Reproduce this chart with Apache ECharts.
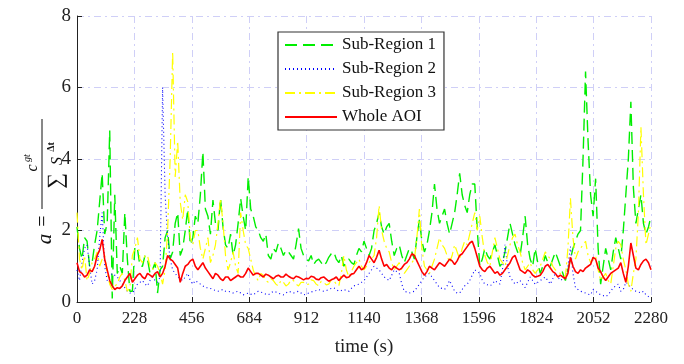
<!DOCTYPE html>
<html>
<head>
<meta charset="utf-8">
<script src="https://cdn.jsdelivr.net/npm/echarts@6.0.0/dist/echarts.min.js"></script>
<style>
  html, body { margin: 0; padding: 0; background: #fff; }
  #chart-container { width: 684px; height: 364px; }
</style>
</head>
<body>
<div id="chart-container"></div>
<script>
// sample times (s), one reading every 10 s
const times = [
  0, 10, 20, 30, 40, 50, 60, 70, 80, 90,
  100, 110, 120, 130, 140, 150, 160, 170, 180, 190,
  200, 210, 220, 230, 240, 250, 260, 270, 280, 290,
  300, 310, 320, 330, 340, 350, 360, 370, 380, 390,
  400, 410, 420, 430, 440, 450, 460, 470, 480, 490,
  500, 510, 520, 530, 540, 550, 560, 570, 580, 590,
  600, 610, 620, 630, 640, 650, 660, 670, 680, 690,
  700, 710, 720, 730, 740, 750, 760, 770, 780, 790,
  800, 810, 820, 830, 840, 850, 860, 870, 880, 890,
  900, 910, 920, 930, 940, 950, 960, 970, 980, 990,
  1000, 1010, 1020, 1030, 1040, 1050, 1060, 1070, 1080, 1090,
  1100, 1110, 1120, 1130, 1140, 1150, 1160, 1170, 1180, 1190,
  1200, 1210, 1220, 1230, 1240, 1250, 1260, 1270, 1280, 1290,
  1300, 1310, 1320, 1330, 1340, 1350, 1360, 1370, 1380, 1390,
  1400, 1410, 1420, 1430, 1440, 1450, 1460, 1470, 1480, 1490,
  1500, 1510, 1520, 1530, 1540, 1550, 1560, 1570, 1580, 1590,
  1600, 1610, 1620, 1630, 1640, 1650, 1660, 1670, 1680, 1690,
  1700, 1710, 1720, 1730, 1740, 1750, 1760, 1770, 1780, 1790,
  1800, 1810, 1820, 1830, 1840, 1850, 1860, 1870, 1880, 1890,
  1900, 1910, 1920, 1930, 1940, 1950, 1960, 1970, 1980, 1990,
  2000, 2010, 2020, 2030, 2040, 2050, 2060, 2070, 2080, 2090,
  2100, 2110, 2120, 2130, 2140, 2150, 2160, 2170, 2180, 2190,
  2200, 2210, 2220, 2230, 2240, 2250, 2260, 2270, 2280
];

const subRegion1 = [
  2.1, 1.5, 1.2, 1.8, 1.7, 1.0, 1.1, 1.6, 2.0, 2.8,
  3.6, 1.9, 2.2, 4.8, 0.1, 3.0, 0.8, 1.0, 0.8, 2.5,
  1.2, 0.3, 0.3, 1.55, 1.5, 1.0, 1.0, 1.3, 1.2, 0.8,
  0.9, 1.1, 0.25, 0.9, 1.0, 1.8, 2.0, 1.2, 1.4, 2.2,
  2.5, 1.3, 1.5, 2.0, 2.6, 1.6, 1.8, 2.4, 2.2, 3.0,
  4.2, 2.6, 2.4, 1.9, 2.85, 2.2, 2.0, 2.9, 2.1, 1.6,
  1.5, 1.9, 1.3, 1.6, 2.2, 2.9, 2.4, 2.0, 3.5, 2.6,
  2.4, 2.1, 2.0, 1.8, 1.7, 1.9, 1.3, 1.2, 1.5, 1.4,
  1.65, 1.5, 1.3, 1.45, 1.4, 1.3, 1.2, 1.6, 2.05, 1.5,
  1.3, 1.2, 1.15, 1.3, 1.05, 1.15, 1.2, 1.1, 1.0, 1.1,
  1.25, 1.35, 1.4, 1.2, 1.1, 1.3, 1.0, 1.15, 1.2, 1.1,
  1.05, 1.3, 1.5, 1.4, 1.7, 1.5, 1.3, 1.5, 2.0, 2.2,
  2.5, 2.1, 1.9, 2.1, 2.2, 1.7, 1.3, 1.5, 1.6, 1.3,
  1.1, 1.3, 1.5, 1.4, 1.2, 1.8, 2.3, 1.7, 1.4, 1.6,
  2.0, 2.5, 3.3, 2.6, 2.2, 2.4, 2.6, 2.2, 1.9, 2.2,
  2.5, 3.0, 3.6, 3.0, 2.7, 2.5, 3.0, 3.3, 3.3, 2.0,
  1.0, 1.2, 1.5, 1.3, 1.2, 1.4, 1.6, 1.3, 1.0, 1.1,
  1.4, 1.8, 2.2, 1.9, 1.6, 1.4, 1.3, 1.8, 2.4, 1.6,
  1.2, 1.0, 1.5, 1.1, 0.8, 1.0, 1.3, 1.1, 1.0, 1.2,
  1.4, 1.2, 1.0, 0.8, 0.6, 0.9, 1.2, 1.5, 1.7, 1.9,
  2.0, 4.0, 6.45, 4.5, 3.0, 2.4, 3.45, 1.5, 0.5, 1.0,
  1.5, 1.2, 0.9, 1.4, 1.8, 1.5, 1.2, 2.0, 3.0, 4.0,
  5.6, 3.2, 2.2, 2.6, 3.0, 2.2, 1.9, 2.1, 2.4
];

const subRegion2 = [
  0.9, 0.6, 1.1, 1.5, 1.6, 1.0, 0.5, 0.6, 0.9, 1.8,
  2.5, 1.0, 0.6, 0.7, 0.8, 0.75, 0.7, 0.6, 0.5, 0.4,
  0.3, 0.25, 0.25, 0.35, 0.5, 0.55, 0.6, 0.5, 0.45, 0.6,
  0.7, 0.6, 0.55, 0.7, 6.0, 3.0, 1.8, 1.2, 0.9, 0.8,
  0.7, 0.65, 0.6, 0.7, 0.8, 0.6, 0.5, 0.6, 0.55, 0.5,
  0.45, 0.4, 0.4, 0.38, 0.35, 0.32, 0.3, 0.33, 0.35, 0.3,
  0.3, 0.28, 0.25, 0.28, 0.3, 0.25, 0.2, 0.22, 0.25, 0.22,
  0.2, 0.25, 0.3, 0.28, 0.25, 0.22, 0.2, 0.25, 0.3, 0.28,
  0.25, 0.22, 0.2, 0.25, 0.3, 0.28, 0.25, 0.28, 0.3, 0.25,
  0.2, 0.22, 0.25, 0.28, 0.3, 0.32, 0.35, 0.32, 0.3, 0.32,
  0.35, 0.38, 0.4, 0.35, 0.3, 0.32, 0.35, 0.32, 0.3, 0.38,
  0.45, 0.48, 0.5, 0.55, 0.6, 0.7, 0.8, 0.9, 1.0, 0.95,
  0.9, 0.8, 0.7, 0.65, 0.6, 0.75, 0.9, 0.85, 0.8, 0.5,
  0.3, 0.28, 0.25, 0.28, 0.3, 0.4, 0.5, 0.6, 0.7, 0.75,
  0.8, 0.7, 0.6, 0.5, 0.4, 0.38, 0.35, 0.45, 0.6, 0.45,
  0.3, 0.25, 0.25, 0.35, 0.45, 0.5, 0.6, 0.75, 0.9, 0.85,
  0.8, 0.6, 0.5, 0.48, 0.45, 0.5, 0.6, 0.55, 0.5, 0.9,
  1.6, 1.0, 0.7, 0.6, 0.5, 0.55, 0.6, 0.5, 0.4, 0.55,
  0.7, 0.6, 0.5, 0.55, 0.6, 0.65, 0.7, 0.6, 0.5, 0.65,
  0.8, 0.7, 0.6, 0.65, 0.7, 1.0, 1.55, 0.8, 0.4, 0.35,
  0.3, 0.28, 0.25, 0.22, 0.2, 0.35, 0.3, 0.25, 0.2, 0.18,
  0.15, 0.2, 0.3, 0.4, 0.45, 0.5, 0.3, 0.35, 0.55, 0.5,
  0.4, 0.35, 0.3, 0.28, 0.25, 0.3, 0.2, 0.15, 0.1
];

const subRegion3 = [
  2.5, 1.2, 0.9, 1.3, 0.6, 0.8, 1.1, 1.2, 1.4, 1.0,
  1.2, 1.3, 0.8, 0.5, 0.35, 0.45, 0.5, 0.7, 0.8, 0.6,
  0.3, 0.4, 1.3, 1.5, 1.8, 1.2, 1.1, 1.3, 1.3, 1.0,
  0.9, 1.1, 1.0, 0.8, 0.5, 0.9, 2.0, 4.0, 7.0, 3.5,
  4.5, 2.8, 2.3, 3.0, 2.8, 1.8, 1.6, 2.0, 2.0, 1.5,
  1.2, 1.5, 1.8, 1.1, 1.3, 1.6, 2.2, 2.9, 2.2, 1.3,
  0.9, 1.1, 1.4, 1.0, 0.8, 2.5, 2.0, 1.6, 1.5, 1.2,
  0.9, 0.7, 0.6, 0.8, 0.75, 0.6, 0.55, 0.65, 0.6, 0.5,
  0.45, 0.6, 0.55, 0.45, 0.5, 0.62, 0.6, 0.5, 0.45, 0.55,
  0.55, 0.48, 0.5, 0.62, 0.6, 0.5, 0.45, 0.58, 0.55, 0.48,
  0.5, 0.62, 0.6, 0.5, 0.45, 0.8, 1.3, 0.9, 0.7, 0.85,
  1.0, 1.1, 1.2, 1.0, 0.9, 1.0, 1.1, 1.2, 1.3, 1.8,
  2.7, 2.0, 1.7, 1.5, 1.4, 1.1, 0.9, 1.0, 1.1, 0.9,
  0.8, 0.9, 1.0, 1.1, 1.2, 1.8, 2.6, 1.5, 1.0, 0.9,
  0.8, 1.0, 1.2, 1.5, 1.8, 1.6, 1.5, 1.3, 1.1, 1.3,
  1.6, 1.4, 1.2, 1.5, 1.7, 1.6, 1.9, 2.2, 2.5, 2.0,
  2.4, 1.8, 1.3, 1.1, 1.0, 1.4, 1.8, 1.5, 1.2, 1.1,
  1.0, 1.3, 1.6, 1.8, 1.9, 1.6, 1.4, 1.1, 0.9, 1.0,
  1.1, 0.9, 0.8, 0.9, 1.0, 1.2, 1.4, 1.3, 1.2, 1.0,
  0.9, 0.85, 0.8, 0.75, 0.7, 1.5, 2.9, 1.8, 1.2, 1.4,
  1.5, 1.6, 1.7, 1.3, 1.1, 1.2, 1.3, 0.9, 0.6, 0.7,
  0.8, 0.6, 0.5, 1.0, 1.5, 1.7, 1.6, 1.2, 0.9, 0.5,
  0.3, 0.8, 1.2, 2.5, 4.9, 3.0, 1.6, 1.9, 2.2
];

const wholeAOI = [
  1.1, 0.85, 0.8, 0.7, 0.75, 0.9, 0.85, 1.0, 1.3, 1.45,
  1.75, 1.2, 0.9, 0.6, 0.45, 0.35, 0.4, 0.38, 0.45, 0.6,
  0.7, 0.8, 0.55, 0.65, 0.75, 0.8, 0.7, 0.65, 0.8, 0.75,
  0.7, 0.8, 0.85, 0.7, 0.8, 1.0, 1.3, 1.2, 1.15, 1.05,
  0.95, 0.55, 0.8, 1.0, 1.05, 1.15, 1.2, 1.0, 0.9, 1.0,
  1.1, 0.95, 0.85, 0.75, 0.65, 0.8, 0.75, 0.65, 0.6, 0.7,
  0.7, 0.6, 0.65, 0.7, 0.75, 0.7, 0.7, 0.8, 0.95, 0.85,
  0.75, 0.8, 0.8, 0.75, 0.7, 0.78, 0.75, 0.7, 0.65, 0.72,
  0.75, 0.7, 0.7, 0.78, 0.72, 0.68, 0.65, 0.72, 0.7, 0.66,
  0.62, 0.66, 0.65, 0.72, 0.7, 0.64, 0.62, 0.68, 0.7, 0.64,
  0.58, 0.62, 0.65, 0.7, 0.6, 0.68, 0.75, 0.68, 0.7, 0.78,
  0.8, 0.9, 1.0, 0.9, 0.95, 1.1, 1.3, 1.2, 1.1, 1.25,
  1.45, 1.2, 1.0, 1.05, 0.95, 0.9, 1.0, 0.95, 0.9, 0.95,
  1.05, 1.1, 1.2, 1.35, 1.3, 1.15, 1.0, 0.85, 0.75, 0.85,
  1.0, 0.95, 0.9, 1.0, 1.1, 1.05, 1.0, 1.1, 1.2, 1.15,
  1.05, 1.15, 1.3, 1.35, 1.45, 1.55, 1.65, 1.7, 1.5, 1.25,
  1.0, 0.9, 0.85, 0.95, 1.0, 0.9, 0.8, 0.85, 0.75, 0.8,
  0.9, 1.0, 1.1, 1.25, 1.3, 1.1, 0.9, 0.85, 0.8, 0.9,
  0.85, 0.75, 0.7, 0.72, 0.75, 0.85, 1.0, 1.05, 0.95, 0.85,
  0.8, 0.7, 0.75, 0.7, 0.65, 0.8, 1.25, 1.0, 0.85, 0.8,
  0.9, 0.85, 0.95, 1.0, 1.05, 1.25, 1.2, 0.95, 0.85, 0.7,
  0.6, 0.7, 0.8, 0.85, 0.9, 0.95, 1.1, 0.8, 0.55, 1.0,
  1.65, 1.3, 0.95, 0.9, 1.05, 1.15, 1.2, 1.1, 0.9
];

const xTicks = [0, 228, 456, 684, 912, 1140, 1368, 1596, 1824, 2052, 2280];
const yTicks = [0, 2, 4, 6, 8];

const serif = '"Liberation Serif", "DejaVu Serif", serif';
const gridColor = '#cfcff7';
const dashDot = [7, 4, 2, 4];

const pair = (vals) => times.map((t, i) => [t, vals[i]]);

const chartDom = document.getElementById('chart-container');
const myChart = echarts.init(chartDom, null, { renderer: 'canvas' });

const lineSeries = (name, vals, color, type, width) => ({
    name: name,
    type: 'line',
    data: pair(vals),
    showSymbol: false,
    symbol: 'none',
    lineStyle: { color: color, width: width, type: type },
    itemStyle: { color: color },
    emphasis: { disabled: true }
});

const option = {
    animation: false,
    backgroundColor: '#fff',
    grid: { left: 77, right: 33, top: 16, bottom: 62, containLabel: false },
    legend: {
        orient: 'vertical',
        left: 278,
        top: 32,
        padding: [4, 8, 4, 6],
        itemWidth: 52,
        itemHeight: 12,
        itemGap: 6,
        backgroundColor: '#fff',
        borderColor: '#333',
        borderWidth: 1.2,
        itemStyle: { opacity: 0 }, // hide the marker dot, keep the line sample
        textStyle: { fontFamily: serif, fontSize: 17, color: '#111', lineHeight: 18 },
        data: ['Sub-Region 1', 'Sub-Region 2', 'Sub-Region 3', 'Whole AOI']
    },
    xAxis: {
        type: 'value',
        min: xTicks[0],
        max: xTicks[xTicks.length - 1],
        interval: 228,
        name: 'time (s)',
        nameLocation: 'middle',
        nameGap: 36,
        nameTextStyle: { fontFamily: serif, fontSize: 19, color: '#222' },
        axisLine: { show: true, onZero: false, lineStyle: { color: '#222', width: 1 } },
        axisTick: { show: true, inside: true, length: 5, lineStyle: { color: '#222' } },
        axisLabel: { fontFamily: serif, fontSize: 17, color: '#222', margin: 8, formatter: (v) => String(v) },
        splitLine: { show: true, lineStyle: { color: gridColor, type: dashDot, width: 1 } }
    },
    yAxis: {
        type: 'value',
        min: yTicks[0],
        max: yTicks[yTicks.length - 1],
        interval: 2,
        axisLine: { show: true, onZero: false, lineStyle: { color: '#222', width: 1 } },
        axisTick: { show: true, inside: true, length: 5, lineStyle: { color: '#222' } },
        axisLabel: { fontFamily: serif, fontSize: 19, color: '#222', margin: 6, formatter: (v) => String(v) },
        splitLine: { show: true, lineStyle: { color: gridColor, type: dashDot, width: 1 } }
    },
    // y-axis label: a = c^gt / sum S^dt, drawn as rotated text
    graphic: [{
        type: 'group',
        x: 42,
        y: 165,
        rotation: Math.PI / 2,
        children: [
            { type: 'text', x: -74, y: 3, style: { text: 'a', font: 'italic 21px ' + serif, fill: '#111', align: 'center', verticalAlign: 'middle' } },
            { type: 'text', x: -56, y: 2, style: { text: '=', font: '20px ' + serif, fill: '#111', align: 'center', verticalAlign: 'middle' } },
            { type: 'line', shape: { x1: -44, y1: 0, x2: 46, y2: 0 }, style: { stroke: '#111', lineWidth: 1 } },
            { type: 'text', x: -3, y: -9, style: { text: 'c', font: 'italic 16px ' + serif, fill: '#111', align: 'center', verticalAlign: 'middle' } },
            { type: 'text', x: 7, y: -15, style: { text: 'gt', font: 'italic 10px ' + serif, fill: '#111', align: 'center', verticalAlign: 'middle' } },
            { type: 'text', x: -16, y: 14, style: { text: '\u2211', font: '22px ' + serif, fill: '#111', align: 'center', verticalAlign: 'middle' } },
            { type: 'text', x: 4, y: 16, style: { text: 'S', font: 'italic 16px ' + serif, fill: '#111', align: 'center', verticalAlign: 'middle' } },
            { type: 'text', x: 18, y: 9, style: { text: '\u0394t', font: 'bold 10px ' + serif, fill: '#111', align: 'center', verticalAlign: 'middle' } }
        ]
    }],
    series: [
        lineSeries('Sub-Region 1', subRegion1, '#00ee00', [12, 6], 1.4),
        lineSeries('Sub-Region 2', subRegion2, '#0000ff', [1, 3], 1.1),
        lineSeries('Sub-Region 3', subRegion3, '#ffff00', [10, 4, 2, 4], 1.2),
        lineSeries('Whole AOI', wholeAOI, '#ff0000', 'solid', 1.6)
    ]
};

myChart.setOption(option);
</script>
</body>
</html>
